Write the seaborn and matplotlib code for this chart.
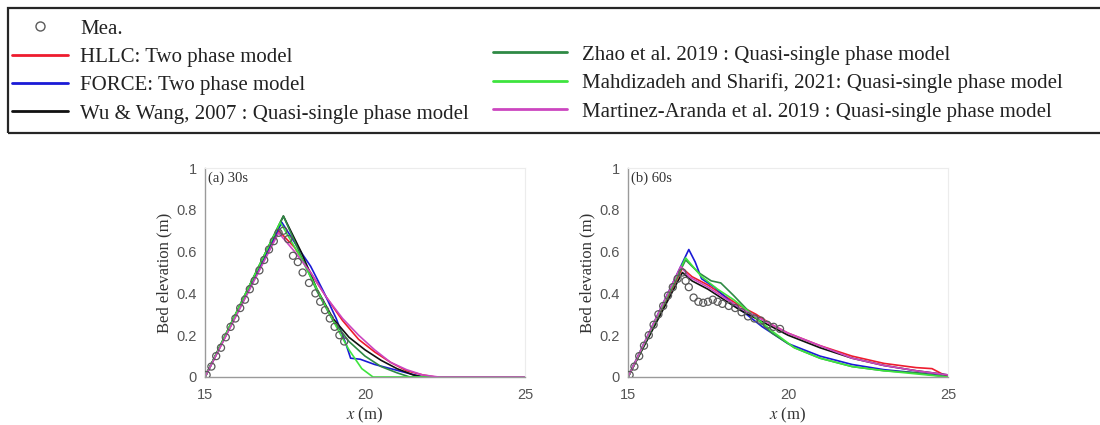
import numpy as np
import pandas as pd
import matplotlib
matplotlib.use("Agg")
import matplotlib.pyplot as plt
from matplotlib.lines import Line2D
from matplotlib.patches import Rectangle
import seaborn as sns

# ---------------- data ----------------
series_names = ["HLLC: Two phase model",
                "FORCE: Two phase model",
                "Wu & Wang, 2007 : Quasi-single phase model",
                "Zhao et al. 2019 : Quasi-single phase model",
                "Mahdizadeh and Sharifi, 2021: Quasi-single phase model",
                "Martinez-Aranda et al. 2019 : Quasi-single phase model"]
mea_label = "Mea."

# Panel (a) 30 s
a_mea_x = [15.05, 15.2, 15.35, 15.5, 15.65, 15.8, 15.95, 16.1, 16.25, 16.4, 16.55, 16.7, 16.85,
           17.0, 17.15, 17.3, 17.45, 17.6, 17.75, 17.9, 18.05, 18.25, 18.45, 18.6, 18.75, 18.9,
           19.05, 19.2, 19.35]
a_mea_y = [0.01, 0.05, 0.10, 0.14, 0.19, 0.24, 0.28, 0.33, 0.37, 0.42, 0.46, 0.51, 0.56,
           0.61, 0.65, 0.69, 0.70, 0.66, 0.58, 0.55, 0.50, 0.45, 0.40, 0.36, 0.32, 0.28,
           0.24, 0.20, 0.17]

a_hllc_x = [15.0, 17.3, 17.8, 18.3, 18.8, 19.3, 19.8, 20.3, 20.8, 21.3, 21.8, 22.2, 25.0]
a_hllc_y = [0.0, 0.70, 0.62, 0.50, 0.38, 0.27, 0.18, 0.12, 0.07, 0.03, 0.01, 0.0, 0.0]
a_force_x = [15.0, 17.4, 17.9, 18.3, 18.7, 19.1, 19.4, 19.55, 19.85, 20.3, 20.8, 21.3, 21.8, 25.0]
a_force_y = [0.0, 0.74, 0.62, 0.53, 0.41, 0.28, 0.16, 0.09, 0.085, 0.06, 0.04, 0.02, 0.0, 0.0]
a_wu_x = [15.0, 17.45, 18.0, 18.5, 19.0, 19.5, 20.0, 20.5, 21.0, 21.5, 21.8, 25.0]
a_wu_y = [0.0, 0.77, 0.60, 0.42, 0.28, 0.19, 0.13, 0.08, 0.04, 0.01, 0.0, 0.0]
a_zhao_x = [15.0, 17.45, 18.0, 18.5, 19.0, 19.5, 20.0, 20.5, 21.0, 21.4, 25.0]
a_zhao_y = [0.0, 0.77, 0.58, 0.41, 0.27, 0.17, 0.10, 0.05, 0.02, 0.0, 0.0]
a_mahd_x = [15.0, 17.35, 18.0, 18.5, 19.0, 19.5, 19.9, 20.25, 25.0]
a_mahd_y = [0.0, 0.74, 0.57, 0.42, 0.27, 0.13, 0.04, 0.0, 0.0]
a_mart_x = [15.0, 17.3, 17.8, 18.3, 18.8, 19.3, 19.8, 20.3, 20.8, 21.3, 21.8, 22.3, 25.0]
a_mart_y = [0.0, 0.69, 0.60, 0.50, 0.38, 0.28, 0.20, 0.13, 0.07, 0.035, 0.01, 0.0, 0.0]

# Panel (b) 60 s
b_mea_x = [15.05, 15.2, 15.35, 15.5, 15.65, 15.8, 15.95, 16.1, 16.25, 16.4, 16.55, 16.7, 16.8,
           16.9, 17.05, 17.2, 17.35, 17.5, 17.65, 17.8, 17.95, 18.15, 18.35, 18.55, 18.75,
           18.95, 19.15, 19.35, 19.55, 19.75]
b_mea_y = [0.01, 0.05, 0.10, 0.15, 0.20, 0.25, 0.30, 0.34, 0.39, 0.43, 0.47, 0.50, 0.46,
           0.43, 0.38, 0.36, 0.355, 0.36, 0.37, 0.36, 0.35, 0.34, 0.33, 0.31, 0.29,
           0.28, 0.27, 0.25, 0.24, 0.23]

b_hllc_x = [15.0, 16.7, 17.0, 17.5, 18.0, 18.5, 19.0, 19.5, 20.0, 20.5, 21.0, 22.0, 23.0, 24.0, 24.5, 25.0]
b_hllc_y = [0.0, 0.52, 0.48, 0.44, 0.39, 0.34, 0.30, 0.25, 0.21, 0.18, 0.15, 0.10, 0.065, 0.045, 0.04, 0.0]
b_force_x = [15.0, 16.9, 17.1, 17.3, 17.7, 18.2, 18.7, 19.2, 20.0, 21.0, 22.0, 23.0, 24.0, 24.6, 25.0]
b_force_y = [0.0, 0.61, 0.55, 0.47, 0.43, 0.36, 0.30, 0.24, 0.16, 0.10, 0.06, 0.035, 0.02, 0.01, 0.0]
b_wu_x = [15.0, 16.7, 17.0, 17.5, 18.0, 18.5, 19.0, 19.5, 20.0, 21.0, 22.0, 23.0, 24.0, 25.0]
b_wu_y = [0.0, 0.50, 0.46, 0.42, 0.37, 0.32, 0.28, 0.24, 0.20, 0.14, 0.09, 0.055, 0.03, 0.01]
b_zhao_x = [15.0, 16.8, 17.2, 17.6, 17.9, 18.3, 18.8, 19.5, 20.2, 21.0, 22.0, 23.0, 24.0, 25.0]
b_zhao_y = [0.0, 0.56, 0.50, 0.46, 0.45, 0.39, 0.31, 0.21, 0.14, 0.09, 0.05, 0.03, 0.02, 0.0]
b_mahd_x = [15.0, 16.8, 17.3, 17.8, 18.3, 18.8, 19.5, 20.2, 21.0, 22.0, 23.0, 24.0, 25.0]
b_mahd_y = [0.0, 0.57, 0.48, 0.42, 0.37, 0.31, 0.22, 0.14, 0.09, 0.05, 0.03, 0.015, 0.0]
b_mart_x = [15.0, 16.65, 16.9, 17.5, 18.0, 18.5, 19.0, 19.5, 20.0, 20.5, 21.0, 22.0, 23.0, 24.0, 25.0]
b_mart_y = [0.0, 0.53, 0.48, 0.43, 0.38, 0.33, 0.29, 0.25, 0.21, 0.18, 0.15, 0.09, 0.055, 0.03, 0.01]

panel_titles = ["(a) 30s", "(b) 60s"]
x_ticks = [15, 20, 25]
y_ticks = [0, 0.2, 0.4, 0.6, 0.8, 1]
y_ticklabels = ["0", "0.2", "0.4", "0.6", "0.8", "1"]
x_label = "$x$ (m)"
y_label = "Bed elevation (m)"

# ---------------- style ----------------
sns.set_style("white")
plt.rcParams["font.family"] = ["Liberation Serif", "DejaVu Serif"]
plt.rcParams["mathtext.fontset"] = "stix"

colors = ["#ee1c2e", "#1a1ad6", "#111111", "#2f8a45", "#3ee43e", "#cc46c0"]
mea_edge = "#5a5a5a"

panels = [
    dict(mx=a_mea_x, my=a_mea_y,
         lines=[(a_hllc_x, a_hllc_y), (a_force_x, a_force_y), (a_wu_x, a_wu_y),
                (a_zhao_x, a_zhao_y), (a_mahd_x, a_mahd_y), (a_mart_x, a_mart_y)]),
    dict(mx=b_mea_x, my=b_mea_y,
         lines=[(b_hllc_x, b_hllc_y), (b_force_x, b_force_y), (b_wu_x, b_wu_y),
                (b_zhao_x, b_zhao_y), (b_mahd_x, b_mahd_y), (b_mart_x, b_mart_y)]),
]

W, H = 1100, 425
fig = plt.figure(figsize=(11, 4.25), dpi=100)
ax_lefts = [205, 628]
ax_w = 320
ax_top, ax_bottom = 168, 377

for i, p in enumerate(panels):
    ax = fig.add_axes([ax_lefts[i] / W, 1 - ax_bottom / H, ax_w / W, (ax_bottom - ax_top) / H])
    for (lx, ly), c in zip(p["lines"], colors):
        sns.lineplot(x=lx, y=ly, ax=ax, color=c, lw=1.2, sort=False, estimator=None, legend=False)
    sns.scatterplot(x=p["mx"], y=p["my"], ax=ax, marker="o", s=26, fc="none",
                    ec=mea_edge, linewidth=0.9, legend=False, zorder=5)
    ax.set_xlim(15, 25)
    ax.set_ylim(0, 1)
    ax.set_xticks(x_ticks)
    ax.set_yticks(y_ticks)
    ax.set_yticklabels(y_ticklabels)
    for lab in ax.get_xticklabels() + ax.get_yticklabels():
        lab.set_fontfamily("Liberation Sans")
        lab.set_fontsize(10.5)
        lab.set_color("#555555")
    ax.tick_params(direction="in", length=3, color="#aaaaaa", width=0.6)
    ax.tick_params(axis="x", pad=8)
    ax.tick_params(axis="y", pad=6)
    for s in ["left", "bottom"]:
        ax.spines[s].set_color("#9a9a9a")
        ax.spines[s].set_linewidth(1.0)
    for s in ["top", "right"]:
        ax.spines[s].set_color("#ececec")
        ax.spines[s].set_linewidth(0.8)
    ax.set_xlabel(x_label, fontsize=12, color="#333333", labelpad=3)
    ax.set_ylabel(y_label, fontsize=12, color="#333333", labelpad=3)
    ax.text(0.01, 0.985, panel_titles[i], transform=ax.transAxes, ha="left", va="top",
            fontsize=10.5, color="#333333")

# ---------------- legend ----------------
fs = 15
left_handles = [Line2D([], [], ls="none", marker="o", mfc="none", mec=mea_edge, ms=6.5, mew=1.0)]
left_labels = [mea_label]
for name, c in zip(series_names[:3], colors[:3]):
    left_handles.append(Line2D([], [], color=c, lw=2))
    left_labels.append(name)
right_handles = [Line2D([], [], color=c, lw=2) for c in colors[3:]]
right_labels = list(series_names[3:])

common = dict(loc="upper left", fontsize=fs, frameon=False, labelspacing=0.42,
              borderpad=0.2, borderaxespad=0, handletextpad=0.58, labelcolor="#222222")
fig.legend(left_handles, left_labels, bbox_to_anchor=(8 / W, 1 - 15 / H),
           handlelength=2.7, **common)
common["handletextpad"] = 0.72
fig.legend(right_handles, right_labels, bbox_to_anchor=(489 / W, 1 - 41 / H),
           handlelength=3.56, **common)

fig.patches.append(Rectangle((8 / W, 1 - 133 / H), 1100 / W, 125 / H,
                             transform=fig.transFigure, fill=False,
                             edgecolor="#262626", linewidth=1.6))

fig.savefig("out.png", dpi=100)
